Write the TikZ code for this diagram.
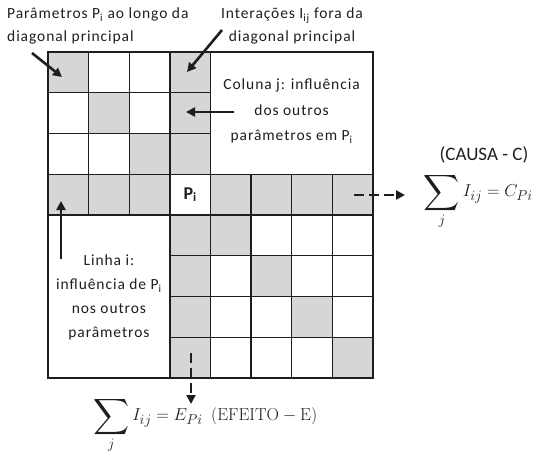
\documentclass[tikz,border=0pt]{standalone}
\usepackage[no-math]{fontspec}
\usepackage{amsmath}
\usepackage{graphicx}
\setmainfont{Carlito}
\newfontfamily\lblfont[LetterSpace=6]{Carlito}
\usetikzlibrary{arrows.meta}
\definecolor{cellgray}{HTML}{D6D6D6}
\definecolor{ink}{HTML}{1E1E1E}
\newcommand{\bigsum}{\mathop{\vcenter{\hbox{\scalebox{1.45}{$\displaystyle\sum$}}}}\limits}
\tikzset{
  cell/.style={draw=ink, line width=1.4pt, minimum width=40.6pt, minimum height=40.75pt, inner sep=0pt, outer sep=0pt},
  gcell/.style={cell, fill=cellgray},
  wcell/.style={cell, fill=white},
  lbl/.style={font=\fontsize{15.5}{24}\selectfont\lblfont, align=center, inner sep=0pt, text=ink},
  mth/.style={font=\fontsize{19}{19}\selectfont, text=ink, inner sep=0pt},
  arr/.style={draw=ink, line width=2.6pt, -{Triangle[length=9pt,width=9pt]}},
  darr/.style={arr, dash pattern=on 10pt off 5pt},
}
\begin{document}
\begin{tikzpicture}[x=1pt,y=-1pt]
\useasboundingbox (0,0) rectangle (538,466);
% cells
\foreach \r/\c/\s in {1/1/g,1/2/w,1/3/w,1/4/g,
                      2/1/w,2/2/g,2/3/w,2/4/g,
                      3/1/w,3/2/w,3/3/g,3/4/g,
                      4/1/g,4/2/g,4/3/g,4/4/w,4/5/g,4/6/g,4/7/g,4/8/g,
                      5/4/g,5/5/g,5/6/w,5/7/w,5/8/w,
                      6/4/g,6/5/w,6/6/g,6/7/w,6/8/w,
                      7/4/g,7/5/w,7/6/w,7/7/g,7/8/w,
                      8/4/g,8/5/w,8/6/w,8/7/w,8/8/g}
  \node[\s cell] (c-\r-\c) at ({48+(\c-0.5)*40.6},{52+(\r-0.5)*40.75}) {};
% merged boxes
\node[cell, minimum width=162.4pt, minimum height=122.25pt] (colbox) at (291.6,113.1) {};
\node[cell, minimum width=121.8pt, minimum height=163pt] (linbox) at (108.9,296.5) {};
% Pi label
\node[font=\fontsize{18}{18}\selectfont\bfseries, text=ink] (pi) at (c-4-4) {P\textsubscript{i}};
% texts
\node[lbl, font=\fontsize{15.5}{25.5}\selectfont\lblfont] (coltext) at (291.6,111) {Coluna j: influência\\dos outros\\parâmetros em P\textsubscript{i}};
\node[lbl] (lintext) at (108.9,297.5) {Linha i:\\influência de P\textsubscript{i}\\nos outros\\parâmetros};
\node[lbl, align=left, anchor=north west, font=\fontsize{15.5}{23}\selectfont\lblfont] (partext) at (7,8) {Parâmetros P\textsubscript{i} ao longo da\\diagonal principal};
\node[lbl, anchor=north, font=\fontsize{15.5}{23}\selectfont\lblfont] (inttext) at (292,8) {Interações I\textsubscript{ij} fora da\\diagonal principal};
% formulas
\node[font=\fontsize{19}{19}\selectfont, text=ink, anchor=south, inner sep=0pt] (causa) at (484,163) {(CAUSA - C)};
\node[mth, anchor=east] (sumc) at (533,201) {$\bigsum_{j} I_{ij} = C_{Pi}$};
\node[mth, anchor=west] (sume) at (93,425) {$\bigsum_{j} I_{ij} = E_{Pi}\ \ \mathrm{(EFEITO} - \mathrm{E)}$};
% arrow end points
\coordinate (a1s) at (32,53);  \coordinate (a1e) at (62,77);
\coordinate (a2s) at (222,30); \coordinate (a2e) at (187,72);
\coordinate (a3s) at (234,112); \coordinate (a3e) at (186,112);
\coordinate (a4s) at (61,259); \coordinate (a4e) at (61,201);
\coordinate (a5s) at (354,195); \coordinate (a5e) at (405,195);
\coordinate (a6s) at (191,353); \coordinate (a6e) at (191,404);
\draw[arr] (a1s) -- (a1e);
\draw[arr] (a2s) -- (a2e);
\draw[arr] (a3s) -- (a3e);
\draw[arr] (a4s) -- (a4e);
\draw[darr] (a5s) -- (a5e);
\draw[darr] (a6s) -- (a6e);
\end{tikzpicture}
\end{document}
